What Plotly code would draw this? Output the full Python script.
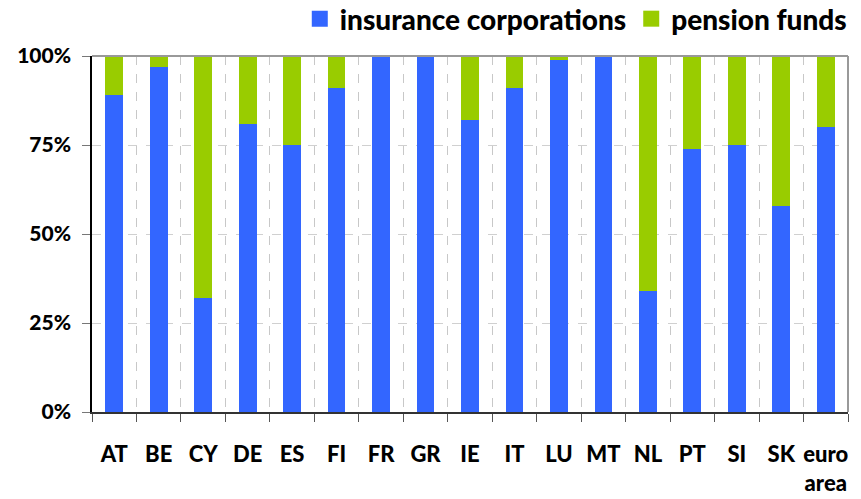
import plotly.graph_objects as go

countries = ["AT", "BE", "CY", "DE", "ES", "FI", "FR", "GR", "IE", "IT", "LU", "MT", "NL", "PT", "SI", "SK", "euro<br>area"]
insurance = [89, 97, 32, 81, 75, 91, 100, 100, 82, 91, 99, 100, 34, 74, 75, 58, 80]
pension = [100 - v for v in insurance]
y_ticks = [0, 25, 50, 75, 100]
y_labels = ["0%", "25%", "50%", "75%", "100%"]
BLUE = "#3366FF"
GREEN = "#99CC00"

FONT = "Lato"
fig = go.Figure()
fig.add_bar(x=countries, y=insurance, name="insurance corporations", marker_color=BLUE,
            marker_line_width=0, width=0.4, showlegend=False)
fig.add_bar(x=countries, y=pension, name="pension funds", marker_color=GREEN,
            marker_line_width=0, width=0.4, showlegend=False)
# legend entries with larger square symbols
for nm, col in [("insurance corporations", BLUE), ("pension funds", GREEN)]:
    fig.add_scatter(x=[countries[0]], y=[None], mode="markers", name=nm,
                    marker=dict(symbol="square", size=16, color=col), showlegend=True)

fig.update_layout(
    barmode="stack",
    width=861, height=499,
    margin=dict(l=92, r=13, t=56, b=87, autoexpand=False),
    plot_bgcolor="white", paper_bgcolor="white",
    font=dict(family=FONT, size=22, color="black", weight=900),
    showlegend=True,
    legend=dict(orientation="h", x=1.005, xanchor="right", y=1.104, yanchor="middle",
                yref="paper", font=dict(size=28, family=FONT, weight=900, color="black"),
                itemwidth=30, traceorder="normal", bgcolor="rgba(0,0,0,0)"),
)

fig.update_xaxes(
    type="category", range=[-0.5, len(countries) - 0.5],
    tickson="boundaries", ticks="outside", ticklen=8, tickcolor="#555",
    showline=True, linecolor="#333", linewidth=1.5, tickangle=0,
    showgrid=True, gridcolor="#c8c8c8", griddash="dash", gridwidth=1,
    ticklabelstandoff=22, tickfont=dict(size=22, family=FONT, weight=900),
)
fig.update_yaxes(
    range=[0, 100], tickvals=y_ticks, ticktext=y_labels, ticks="outside", ticklen=8, tickcolor="#777",
    showline=True, linecolor="black", linewidth=1.5,
    showgrid=True, gridcolor="#d0d0d0", griddash="dash", gridwidth=1,
    ticklabelstandoff=7, tickfont=dict(size=21, family=FONT, weight=900), zeroline=False,
)
# gray top and right border
fig.add_shape(type="line", xref="paper", yref="paper", x0=0, x1=1, y0=1, y1=1, line=dict(color="#999", width=2))
fig.add_shape(type="line", xref="paper", yref="paper", x0=1, x1=1, y0=0, y1=1, line=dict(color="#999", width=2))

fig.write_html("out.html", config={"displayModeBar": False},
               post_script="document.body.style.margin='0';")
